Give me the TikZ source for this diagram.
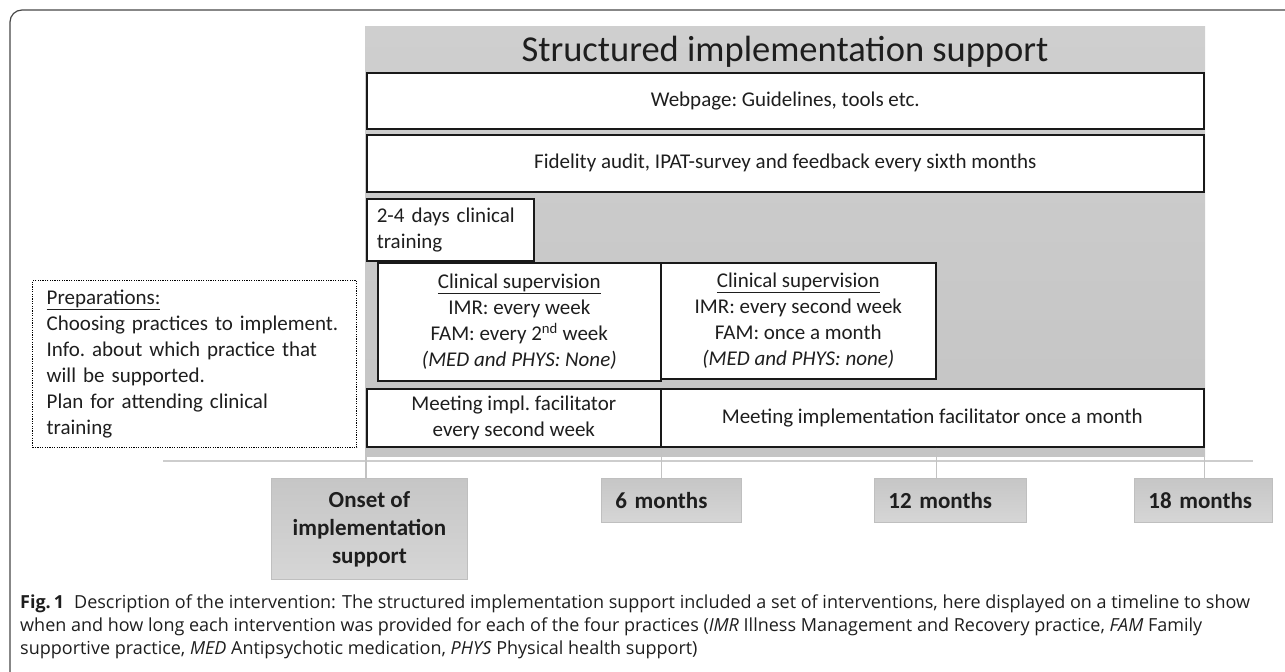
\documentclass[tikz,border=0pt]{standalone}
\usepackage{fontspec}
\setmainfont{Carlito}
\newfontfamily\capfont{Open Sans}
\definecolor{paneltop}{RGB}{207,207,207}
\definecolor{panelbot}{RGB}{196,196,196}
\definecolor{lbltop}{RGB}{198,198,198}
\definecolor{lblbot}{RGB}{214,214,214}
\definecolor{tickgray}{RGB}{195,195,195}
\definecolor{linegray}{RGB}{205,205,205}
\definecolor{framegray}{RGB}{70,70,70}
\definecolor{txt}{RGB}{30,30,30}
\newcommand{\bodyfont}{\fontsize{21bp}{26bp}\selectfont\frenchspacing}
\newcommand{\titlefont}{\fontsize{36.5bp}{40bp}\selectfont}
\newcommand{\lblfont}{\fontsize{23bp}{28bp}\selectfont\bfseries}
\newcommand{\capsize}{\capfont\fontsize{18bp}{23bp}\selectfont}
\begin{document}
\begin{tikzpicture}[x=1bp,y=-1bp,
  box/.style={draw=black!90, line width=1.6bp, fill=white, inner sep=0pt,
    align=center, font=\bodyfont, text=txt, anchor=north west},
  lbl/.style={draw=gray!50, line width=0.8bp, top color=lbltop, bottom color=lblbot,
    inner sep=0pt, font=\lblfont, text=txt, anchor=north west},
  monthbox/.style={lbl, align=left, inner xsep=14bp, minimum height=44bp},
  tickline/.style={draw=tickgray, line width=1.5bp},
  ]
\useasboundingbox (0,0) rectangle (1285,672);
% outer frame
\draw[framegray, line width=1.2bp, rounded corners=12bp] (10,700) -- (10,10) -- (1300,10);
% grey panel
\shade[top color=paneltop, bottom color=panelbot] (365,27) rectangle (1205,456);
\node[font=\titlefont, text=txt, inner sep=0pt] (title) at (785,52) {Structured implementation support};
% bars
\node[box, minimum width=837bp, minimum height=56bp] (web) at (366,72) {Webpage: Guidelines, tools etc.};
\node[box, minimum width=837bp, minimum height=57bp] (fid) at (366,134) {Fidelity audit, IPAT-survey and feedback every sixth months};
\node[box, align=left, text width=147bp, inner xsep=10bp, minimum height=62bp] (train) at (366,198) {\mbox{2-4 days clinical}\\training};
\node[box, minimum width=283bp, minimum height=118bp] (clin1) at (377,262)
  {\underline{Clinical supervision}\\IMR: every week\\FAM: every 2\textsuperscript{nd} week\\\textit{(MED and PHYS: None)}};
\node[box, minimum width=275bp, minimum height=116bp] (clin2) at (660,262)
  {\underline{Clinical supervision}\\IMR: every second week\\FAM: once a month\\\textit{(MED and PHYS: none)}};
\node[box, minimum width=294bp, minimum height=58bp] (meet1) at (366,388) {Meeting impl. facilitator\\every second week};
\node[box, minimum width=543bp, minimum height=58bp] (meet2) at (660,388) {Meeting implementation facilitator once a month};
% preparations
\node[draw=black, line width=1.3bp, dash pattern=on 1.2bp off 1.2bp, anchor=north west,
  align=left, text width=296bp, inner xsep=14bp, inner ysep=0pt, minimum height=167bp,
  font=\bodyfont, text=txt] (prep) at (32,280)
  {\underline{Preparations:}\\\mbox{Choosing practices to implement.}\\\mbox{Info. about which practice that}\\will be supported.\\\mbox{Plan for attending clinical}\\training};
% timeline
\coordinate (tlA) at (163,461);
\coordinate (tlB) at (1253,461);
\draw[draw=linegray, line width=2bp] (tlA) -- (tlB);
% time labels
\node[lbl, align=center, minimum width=196bp, minimum height=101bp] (onset) at (271,478) {Onset of\\implementation\\support};
\node[monthbox, text width=112bp] (m6) at (601,478) {6 months};
\node[monthbox, text width=124bp] (m12) at (874,478) {12 months};
\node[monthbox, text width=110bp] (m18) at (1134,478) {18 months};
% ticks
\draw[tickline] (meet1.south west) -- (meet1.south west |- onset.north);
\draw[tickline] (meet1.south east) -- (meet1.south east |- m6.north);
\draw[tickline] (clin2.south east |- meet2.south) -- (clin2.south east |- m12.north);
\draw[tickline] (meet2.south east) -- (meet2.south east |- m18.north);
% caption
\node[anchor=north west, align=left, inner sep=0pt, font=\capsize, text=txt] (cap) at (20,595)
  {{\bfseries Fig.\,1}\hspace{10bp}Description of the intervention: The structured implementation support included a set of interventions, here displayed on a timeline to show\\
   when and how long each intervention was provided for each of the four practices (\textit{IMR} Illness Management and Recovery practice, \textit{FAM} Family\\
   supportive practice, \textit{MED} Antipsychotic medication, \textit{PHYS} Physical health support)};
\end{tikzpicture}
\end{document}
